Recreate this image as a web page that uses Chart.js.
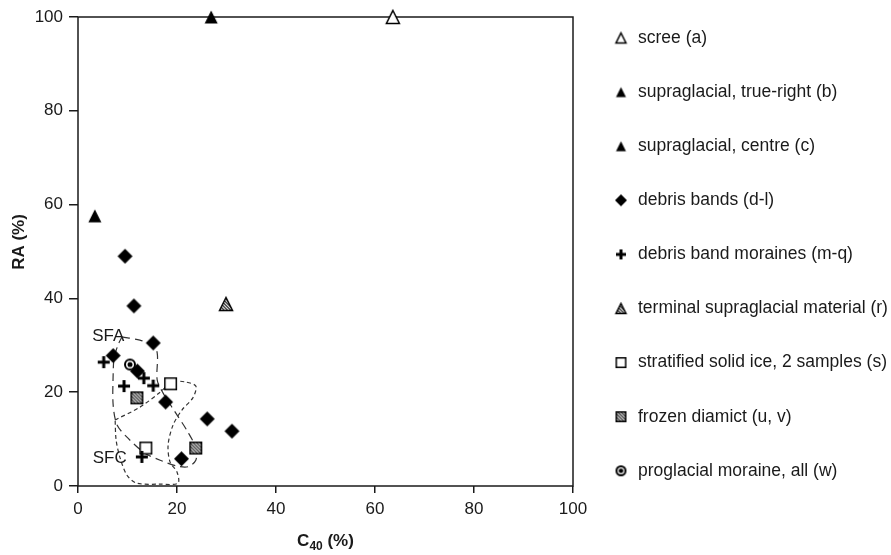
<!doctype html>
<html lang="en">
<head>
<meta charset="utf-8">
<style>
  html, body { margin: 0; padding: 0; background: #fff; }
</style>
</head>
<body>
<canvas id="myChart" width="891" height="555"></canvas>
<script src="https://cdn.jsdelivr.net/npm/chart.js@4/dist/chart.umd.min.js"></script>
<script>
// values: [C40 %, RA %]
const scree = [[63.6, 100]];
const supraTrueRight = [[26.9, 100]];
const supraCentre = [[3.4, 57.6]];
const debrisBands = [[9.5, 49.0], [11.3, 38.4], [15.2, 30.5], [7.1, 27.8], [12.0, 24.5],
                     [17.7, 17.9], [26.1, 14.3], [31.1, 11.7], [20.9, 5.8]];
const debrisMoraines = [[5.2, 26.4], [9.3, 21.3], [13.3, 23.0], [15.2, 21.4], [12.9, 6.2]];
const terminalSupra = [[29.9, 38.8]];
const stratifiedIce = [[18.7, 21.8], [13.7, 8.1]];
const frozenDiamict = [[11.9, 18.8], [23.8, 8.1]];
const proglacialMoraine = [[10.5, 25.9]];

// dashed envelopes
const sfaEnvelope = [[8.9, 31.8], [12.5, 31.1], [14.9, 30.1], [16.0, 28.4], [16.0, 22.6], [17.2, 19.8],
                     [19.6, 15.8], [22.2, 11.5], [23.8, 8.1], [23.8, 5.5], [22.2, 4.1], [19.8, 4.3],
                     [16.6, 5.5], [13.5, 7.0], [10.1, 10.2], [7.9, 13.0], [7.1, 17.3], [7.1, 23.7],
                     [7.3, 27.3], [8.1, 30.1], [8.9, 31.8]];
const sfcEnvelope = [[7.5, 14.1], [12.5, 16.8], [16.6, 20.0], [19.0, 22.2], [21.6, 22.2], [23.8, 21.3],
                     [23.2, 18.8], [21.0, 16.2], [19.2, 13.0], [18.2, 8.7], [18.6, 5.1], [20.0, 3.0],
                     [20.2, 0.6], [16.6, 0.4], [11.9, 0.6], [9.9, 2.3], [8.5, 6.0], [7.7, 9.8], [7.5, 14.1]];
const envelopeLabels = [['SFA', 6.1, 32.0], ['SFC', 6.4, 5.8]];

const xTicks = [0, 20, 40, 60, 80, 100];
const yTicks = [0, 20, 40, 60, 80, 100];

const FONT = '"Liberation Sans", Arial, sans-serif';
const INK = '#1a1a1a';

function toPts(arr) { return arr.map(p => ({ x: p[0], y: p[1] })); }

// little canvas markers, same look as the original symbols
function marker(kind, s) {
    const pad = 2;
    const c = document.createElement('canvas');
    c.width = c.height = s + pad * 2;
    const g = c.getContext('2d');
    const a = pad, b = pad + s, mid = (s + pad * 2) / 2;
    g.lineWidth = 1.5;
    g.strokeStyle = '#000';
    g.fillStyle = '#000';

    function hatch() {
        g.save();
        g.clip();
        g.fillStyle = '#fff';
        g.fillRect(0, 0, c.width, c.height);
        g.strokeStyle = '#3a3a3a';
        g.lineWidth = 1.4;
        for (let k = -c.width; k < c.width * 2; k += 3.3) {
            g.beginPath();
            g.moveTo(k, 0);
            g.lineTo(k + c.width, c.height);
            g.stroke();
        }
        g.restore();
    }

    function triPath() {
        g.beginPath();
        g.moveTo(mid, a + 0.5);
        g.lineTo(b - 0.5, b - 0.5);
        g.lineTo(a + 0.5, b - 0.5);
        g.closePath();
    }

    if (kind.startsWith('tri')) {
        triPath();
        if (kind === 'triFill') { g.fill(); }
        else if (kind === 'triOpen') { g.fillStyle = '#fff'; g.fill(); g.stroke(); }
        else { hatch(); triPath(); g.stroke(); }
    } else if (kind === 'diamond') {
        g.beginPath();
        g.moveTo(mid, a); g.lineTo(b, mid); g.lineTo(mid, b); g.lineTo(a, mid);
        g.closePath();
        g.fill();
    } else if (kind === 'plus') {
        const t = Math.max(2, Math.round(s / 4));
        g.fillRect(a, mid - t / 2, s, t);
        g.fillRect(mid - t / 2, a, t, s);
    } else if (kind === 'sqOpen') {
        g.fillStyle = '#fff';
        g.fillRect(a + 0.75, a + 0.75, s - 1.5, s - 1.5);
        g.strokeRect(a + 0.75, a + 0.75, s - 1.5, s - 1.5);
    } else if (kind === 'sqHatch') {
        g.beginPath();
        g.rect(a + 0.75, a + 0.75, s - 1.5, s - 1.5);
        hatch();
        g.strokeRect(a + 0.75, a + 0.75, s - 1.5, s - 1.5);
    } else if (kind === 'ringDot') {
        g.lineWidth = 2;
        g.fillStyle = '#fff';
        g.beginPath();
        g.arc(mid, mid, s / 2 - 1, 0, Math.PI * 2);
        g.fill();
        g.stroke();
        g.fillStyle = '#000';
        g.beginPath();
        g.arc(mid, mid, s / 6 + 0.5, 0, Math.PI * 2);
        g.fill();
    }
    return c;
}

function pointSet(label, arr, kind, size, legendSize) {
    return {
        type: 'scatter',
        label: label,
        data: toPts(arr),
        pointStyle: marker(kind, size),
        legendIcon: marker(kind, legendSize),
        pointRadius: size / 2,
        clip: false,
        order: 0
    };
}

function envelopeSet(label, arr, dash) {
    return {
        type: 'line',
        label: label,
        data: toPts(arr),
        showLine: true,
        borderColor: '#333',
        borderWidth: 1.2,
        borderDash: dash,
        pointRadius: 0,
        fill: false,
        tension: 0.3,
        order: 5
    };
}

const datasets = [
    pointSet('scree (a)', scree, 'triOpen', 14, 11),
    pointSet('supraglacial, true-right (b)', supraTrueRight, 'triFill', 14, 11),
    pointSet('supraglacial, centre (c)', supraCentre, 'triFill', 14, 11),
    pointSet('debris bands (d-l)', debrisBands, 'diamond', 15, 12),
    pointSet('debris band moraines (m-q)', debrisMoraines, 'plus', 12, 10),
    pointSet('terminal supraglacial material (r)', terminalSupra, 'triHatch', 14, 11),
    pointSet('stratified solid ice, 2 samples (s)', stratifiedIce, 'sqOpen', 13, 11),
    pointSet('frozen diamict (u, v)', frozenDiamict, 'sqHatch', 13, 11),
    pointSet('proglacial moraine, all (w)', proglacialMoraine, 'ringDot', 12, 11),
    envelopeSet('SFA', sfaEnvelope, [8, 5]),
    envelopeSet('SFC', sfcEnvelope, [4, 3])
];

// box frame behind the markers
const framePlugin = {
    id: 'frame',
    beforeDatasetsDraw(chart) {
        const a = chart.chartArea, ctx = chart.ctx;
        ctx.save();
        ctx.strokeStyle = INK;
        ctx.lineWidth = 1.5;
        ctx.strokeRect(a.left, a.top, a.right - a.left, a.bottom - a.top);
        ctx.restore();
    }
};

// side legend, titles and envelope labels
const textPlugin = {
    id: 'texts',
    afterDraw(chart) {
        const ctx = chart.ctx;
        const xs = chart.scales.x, ys = chart.scales.y;
        ctx.save();
        ctx.fillStyle = INK;
        ctx.textBaseline = 'middle';

        ctx.font = '17px ' + FONT;
        ctx.textAlign = 'center';
        envelopeLabels.forEach(l => {
            ctx.fillText(l[0], xs.getPixelForValue(l[1]), ys.getPixelForValue(l[2]));
        });

        ctx.font = '17.5px ' + FONT;
        ctx.textAlign = 'left';
        let row = 0;
        chart.data.datasets.forEach(ds => {
            if (!ds.legendIcon) return;
            const y = 38 + row * 54.1;
            ctx.drawImage(ds.legendIcon, 621 - ds.legendIcon.width / 2, y - ds.legendIcon.height / 2);
            ctx.fillText(ds.label, 638, y);
            row++;
        });

        // y title
        ctx.save();
        ctx.translate(19, 242);
        ctx.rotate(-Math.PI / 2);
        ctx.textAlign = 'center';
        ctx.font = 'bold 17px ' + FONT;
        ctx.fillText('RA (%)', 0, 0);
        ctx.restore();

        // x title with subscript
        const cx = (chart.chartArea.left + chart.chartArea.right) / 2;
        const big = 'bold 17px ' + FONT, small = 'bold 12px ' + FONT;
        ctx.font = big; const wC = ctx.measureText('C').width; const wRest = ctx.measureText(' (%)').width;
        ctx.font = small; const wSub = ctx.measureText('40').width;
        let x0 = cx - (wC + wSub + wRest) / 2;
        const ty = 541;
        ctx.textAlign = 'left';
        ctx.font = big; ctx.fillText('C', x0, ty);
        ctx.font = small; ctx.fillText('40', x0 + wC, ty + 6);
        ctx.font = big; ctx.fillText(' (%)', x0 + wC + wSub, ty);
        ctx.restore();
    }
};

const tickFont = { family: FONT, size: 17 };

new Chart(document.getElementById('myChart'), {
    type: 'scatter',
    data: { datasets: datasets },
    options: {
        responsive: false,
        devicePixelRatio: 1,
        animation: false,
        layout: { padding: { left: 0, right: 891 - 573, top: 17, bottom: 0 } },
        plugins: { legend: { display: false }, tooltip: { enabled: false } },
        scales: {
            x: {
                type: 'linear',
                min: 0, max: 100,
                afterBuildTicks: s => { s.ticks = xTicks.map(v => ({ value: v })); },
                afterFit: s => { s.height = 555 - 486; },
                border: { display: false },
                grid: { drawOnChartArea: false, drawTicks: true, tickLength: 7, color: INK, lineWidth: 1.5 },
                ticks: { color: INK, font: tickFont, padding: 6, maxRotation: 0 }
            },
            y: {
                type: 'linear',
                min: 0, max: 100,
                afterBuildTicks: s => { s.ticks = yTicks.map(v => ({ value: v })); },
                afterFit: s => { s.width = 78; },
                border: { display: false },
                grid: { drawOnChartArea: false, drawTicks: true, tickLength: 9, color: INK, lineWidth: 1.5 },
                ticks: { color: INK, font: tickFont, padding: 6 }
            }
        }
    },
    plugins: [framePlugin, textPlugin]
});
</script>
</body>
</html>
